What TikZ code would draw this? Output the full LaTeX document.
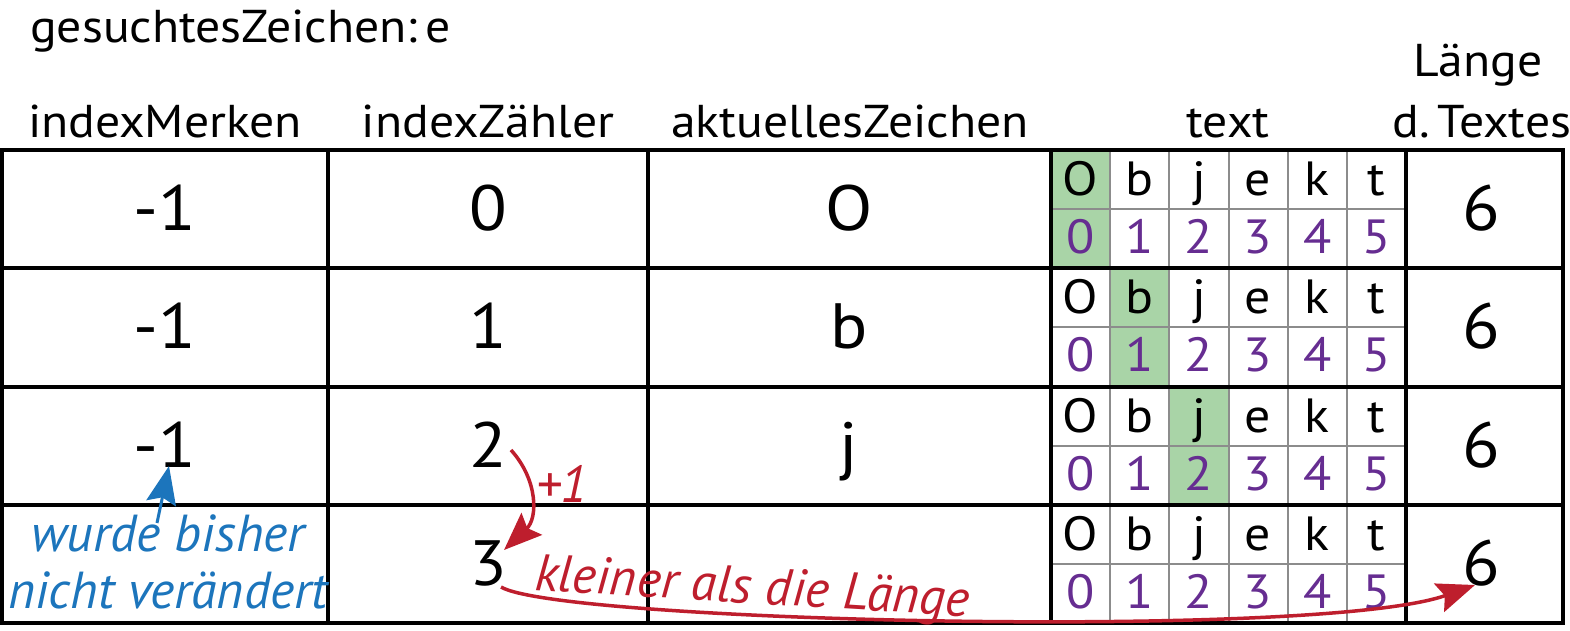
\documentclass[tikz,border=0pt]{standalone}
\usepackage{fontspec}
\setmainfont{PT Sans}[FakeStretch=1.08]
\newfontfamily\handfont{PT Sans}[FakeStretch=1.0]
\usetikzlibrary{arrows.meta}
\definecolor{purp}{HTML}{662D91}
\definecolor{grn}{HTML}{A9D4A7}
\definecolor{redc}{HTML}{BE1E2D}
\definecolor{bluec}{HTML}{1C75BC}
\definecolor{gridg}{HTML}{8C8C8C}
\begin{document}
\begin{tikzpicture}[x=1pt,y=-1pt,
  hdr/.style={anchor=base,inner sep=0pt,font=\fontsize{46}{50}\selectfont},
  big/.style={anchor=base,inner sep=0pt,font=\fontsize{64}{70}\selectfont},
  chr/.style={anchor=base,inner sep=0pt,font=\fontsize{48}{52}\selectfont},
  idx/.style={chr,text=purp},
  hand/.style={anchor=base,inner sep=0pt,font=\handfont\fontsize{52}{56}\selectfont\itshape},
  thick line/.style={line width=4pt,black},
  thin line/.style={line width=2pt,gridg},
  redarrow/.style={line width=3.5pt,redc,-{Stealth[length=38pt,width=30pt,inset=6pt]}},
  bluearrow/.style={line width=3pt,bluec,-{Stealth[length=38pt,width=30pt,inset=6pt]}}]
\useasboundingbox (0,0) rectangle (1570,630);
\fill[white] (0,0) rectangle (1570,630);
% green highlights
\foreach \i/\t in {0/150,1/268,2/387}{
  \fill[grn] ({1051+59.17*\i},\t) rectangle ({1051+59.17*(\i+1)},{\t+118.5});
}
% thin grid in text column
\foreach \t in {150,268,387,505}{
  \foreach \k in {1,...,5}{
    \draw[thin line] ({1051+59.17*\k},\t) -- ({1051+59.17*\k},{\t+118});
  }
  \draw[thin line] (1051,{\t+59}) -- (1406,{\t+59});
}
% thick grid
\draw[thick line] (2,150) rectangle (1563,623);
\foreach \x in {328,648,1051,1406} \draw[thick line] (\x,150) -- (\x,623);
\foreach \y in {268,387,505} \draw[thick line] (2,\y) -- (1563,\y);
% headers
\node[hdr,anchor=base west] (gz) at (30,42) {gesuchtesZeichen:\,e};
\node[hdr] (h1) at (165,137) {indexMerken};
\node[hdr] (h2) at (488,137) {indexZähler};
\node[hdr] (h3) at (850,137) {aktuellesZeichen};
\node[hdr] (h4) at (1228,137) {text};
\node[hdr] (h5a) at (1478,76) {Länge};
\node[hdr] (h5b) at (1482,137) {d.\,Textes};
% rows
\foreach \r/\t/\z/\c in {1/150/0/O,2/268/1/b,3/387/2/j,4/505/3/{}}{
  \node[big] (z\r) at (488,{\t+80}) {\z};
  \node[big] (a\r) at (849,{\t+80}) {\c};
  \node[big] (l\r) at (1481,{\t+80}) {6};
  \foreach \ch [count=\k from 0] in {O,b,j,e,k,t}{
    \node[chr] (t\r c\k) at ({1051+59.17*(\k+0.5)},{\t+45}) {\ch};
    \node[idx] (t\r i\k) at ({1051+59.17*(\k+0.5)},{\t+103}) {\k};
  }
}
\foreach \r/\t in {1/150,2/268,3/387}{
  \node[big] (m\r) at (165,{\t+80}) {-1};
}
% annotations
\node[hand,text=bluec] (wb) at (168,551) {wurde bisher};
\node[hand,text=bluec] (nv) at (168,608) {nicht verändert};
\node[hand,text=redc] (p1) at (562,502) {+1};
\node[hand,text=redc,rotate=-3.5,anchor=base west] (kl) at (534,590) {kleiner als die Länge};
\coordinate (bt) at (157,523);
\coordinate (bh) at (169,466);
\draw[bluearrow] (bt) -- (bh);
\coordinate (r1s) at (511,450);
\coordinate (r1e) at (504,550);
\draw[redarrow] (r1s) .. controls (538,480) and (538,518) .. (r1e);
\coordinate (r2s) at (501,587);
\coordinate (r2e) at (1475,585);
\draw[redarrow] (r2s) .. controls (560,622) and (1320,640) .. (r2e);
\end{tikzpicture}
\end{document}
